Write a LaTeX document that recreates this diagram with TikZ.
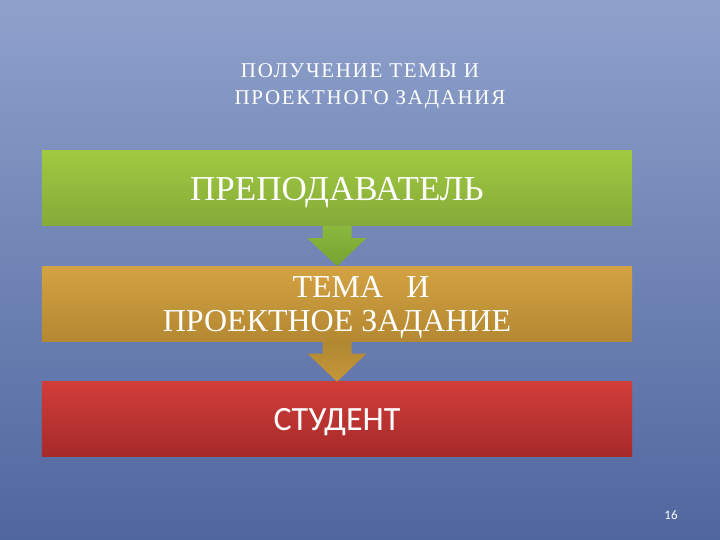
\documentclass[tikz,border=0pt]{standalone}
\usepackage{fontspec}
\setmainfont{Liberation Serif}
\newfontfamily\calibrifont{Carlito}
\newfontfamily\titlefont[LetterSpace=8]{Liberation Serif}
\usetikzlibrary{positioning,calc}

\definecolor{bgtop}{RGB}{143,161,203}
\definecolor{bgbot}{RGB}{80,102,158}
\definecolor{greentop}{RGB}{160,201,64}
\definecolor{greenbot}{RGB}{134,170,58}
\definecolor{goldtop}{RGB}{211,162,66}
\definecolor{goldbot}{RGB}{180,136,50}
\definecolor{redtop}{RGB}{209,61,57}
\definecolor{redbot}{RGB}{165,42,42}
\definecolor{arrowgreentop}{RGB}{138,184,60}
\definecolor{arrowgreenbot}{RGB}{118,162,50}
\definecolor{arrowgoldtop}{RGB}{176,136,50}
\definecolor{arrowgoldbot}{RGB}{198,150,56}

\tikzset{
  stage/.style={minimum width=590bp, minimum height=75bp, inner sep=0pt,
    text=white, align=center, text depth=0pt}
}

\begin{document}
\begin{tikzpicture}[x=1bp,y=-1bp]
% slide background
\useasboundingbox (0,0) rectangle (720,540);
\shade[top color=bgtop, bottom color=bgbot] (0,0) rectangle (720,540);

\node[text=white, align=center, font=\titlefont\fontsize{21bp}{27bp}\selectfont] (title) at (370,86)
  {ПОЛУЧЕНИЕ ТЕМЫ И\hspace*{20bp}\\ПРОЕКТНОГО ЗАДАНИЯ};

\node[stage, font=\fontsize{35bp}{37bp}\selectfont, top color=greentop, bottom color=greenbot]
  (teacher) at (337,188.5) {ПРЕПОДАВАТЕЛЬ};
\node[stage, font=\fontsize{32bp}{34bp}\selectfont, top color=goldtop, bottom color=goldbot,
  below=40bp of teacher] (topic)
  {\hspace*{48bp}ТЕМА\hspace{23bp}И\\ПРОЕКТНОЕ ЗАДАНИЕ};
\node[stage, font=\calibrifont\fontsize{34bp}{36bp}\selectfont, top color=redtop, bottom color=redbot,
  below=40bp of topic] (student) {СТУДЕНТ};

% block arrows between the stages
\foreach \from/\to/\ctop/\cbot in {teacher/topic/arrowgreentop/arrowgreenbot,
                                     topic/student/arrowgoldtop/arrowgoldbot}
  \shade[top color=\ctop, bottom color=\cbot]
    ($(\from.south)+(-14.5,0)$) -- ($(\from.south)+(14.5,0)$) -- ($(\from.south)+(14.5,12)$)
    -- ($(\from.south)+(29.5,12)$) -- (\to.north) -- ($(\from.south)+(-29.5,12)$)
    -- ($(\from.south)+(-14.5,12)$) -- cycle;

\node[text=white, font=\calibrifont\fontsize{13bp}{15bp}\selectfont] (pagenum) at (671,515) {16};
\end{tikzpicture}
\end{document}
